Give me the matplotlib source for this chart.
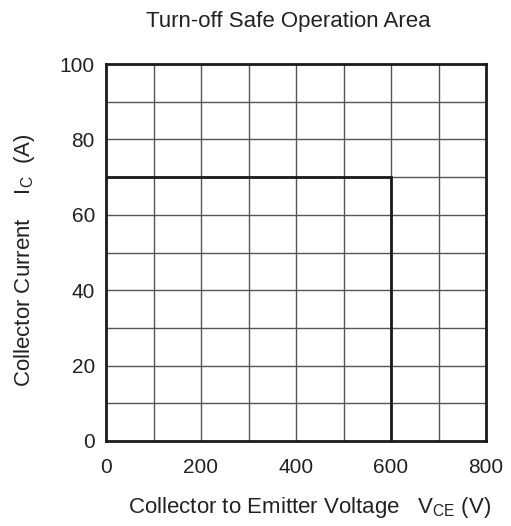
import matplotlib
matplotlib.use("Agg")
import matplotlib.pyplot as plt
import numpy as np

plt.rcParams['font.family'] = ['Liberation Sans', 'DejaVu Sans']

# Turn-off SOA boundary (V, A)
soa_v = [0, 600, 600]
soa_i = [70, 70, 0]

x_ticks = [0, 200, 400, 600, 800]
y_ticks = [0, 20, 40, 60, 80, 100]

W, H = 511, 526
fig = plt.figure(figsize=(W / 100, H / 100), dpi=100)
ax = fig.add_axes([106 / W, 1 - 441 / H, 380 / W, 377 / H])

# grid every 100 V and 10 A
for v in np.arange(100, 800, 100):
    ax.axvline(v, color='#555555', lw=1.0, zorder=1)
for i in np.arange(10, 100, 10):
    ax.axhline(i, color='#555555', lw=1.0, zorder=1)

ax.plot(soa_v, soa_i, color='#1a1a1a', lw=2.0, zorder=3, solid_joinstyle='miter')

ax.set_xlim(0, 800)
ax.set_ylim(0, 100)
ax.set_xticks(x_ticks)
ax.set_yticks(y_ticks)
ax.tick_params(length=0, labelsize=15, colors='#222222')
ax.tick_params(axis='x', pad=12)
ax.tick_params(axis='y', pad=8)
for s in ax.spines.values():
    s.set_linewidth(2.0)
    s.set_color('#1a1a1a')

fig.text(288 / W, 1 - 21 / H, "Turn-off Safe Operation Area", fontsize=16,
         ha='center', va='center', color='#222222')
fig.text(310 / W, 1 - 507 / H,
         "Collector to Emitter Voltage   V$_{\\mathregular{CE}}$ (V)",
         fontsize=16, ha='center', va='center', color='#222222')
fig.text(25 / W, 1 - 260 / H, "Collector Current    I$_{\\mathregular{C}}$  (A)",
         fontsize=16, ha='center', va='center', rotation=90, color='#222222')

fig.savefig("out.png", dpi=100)
